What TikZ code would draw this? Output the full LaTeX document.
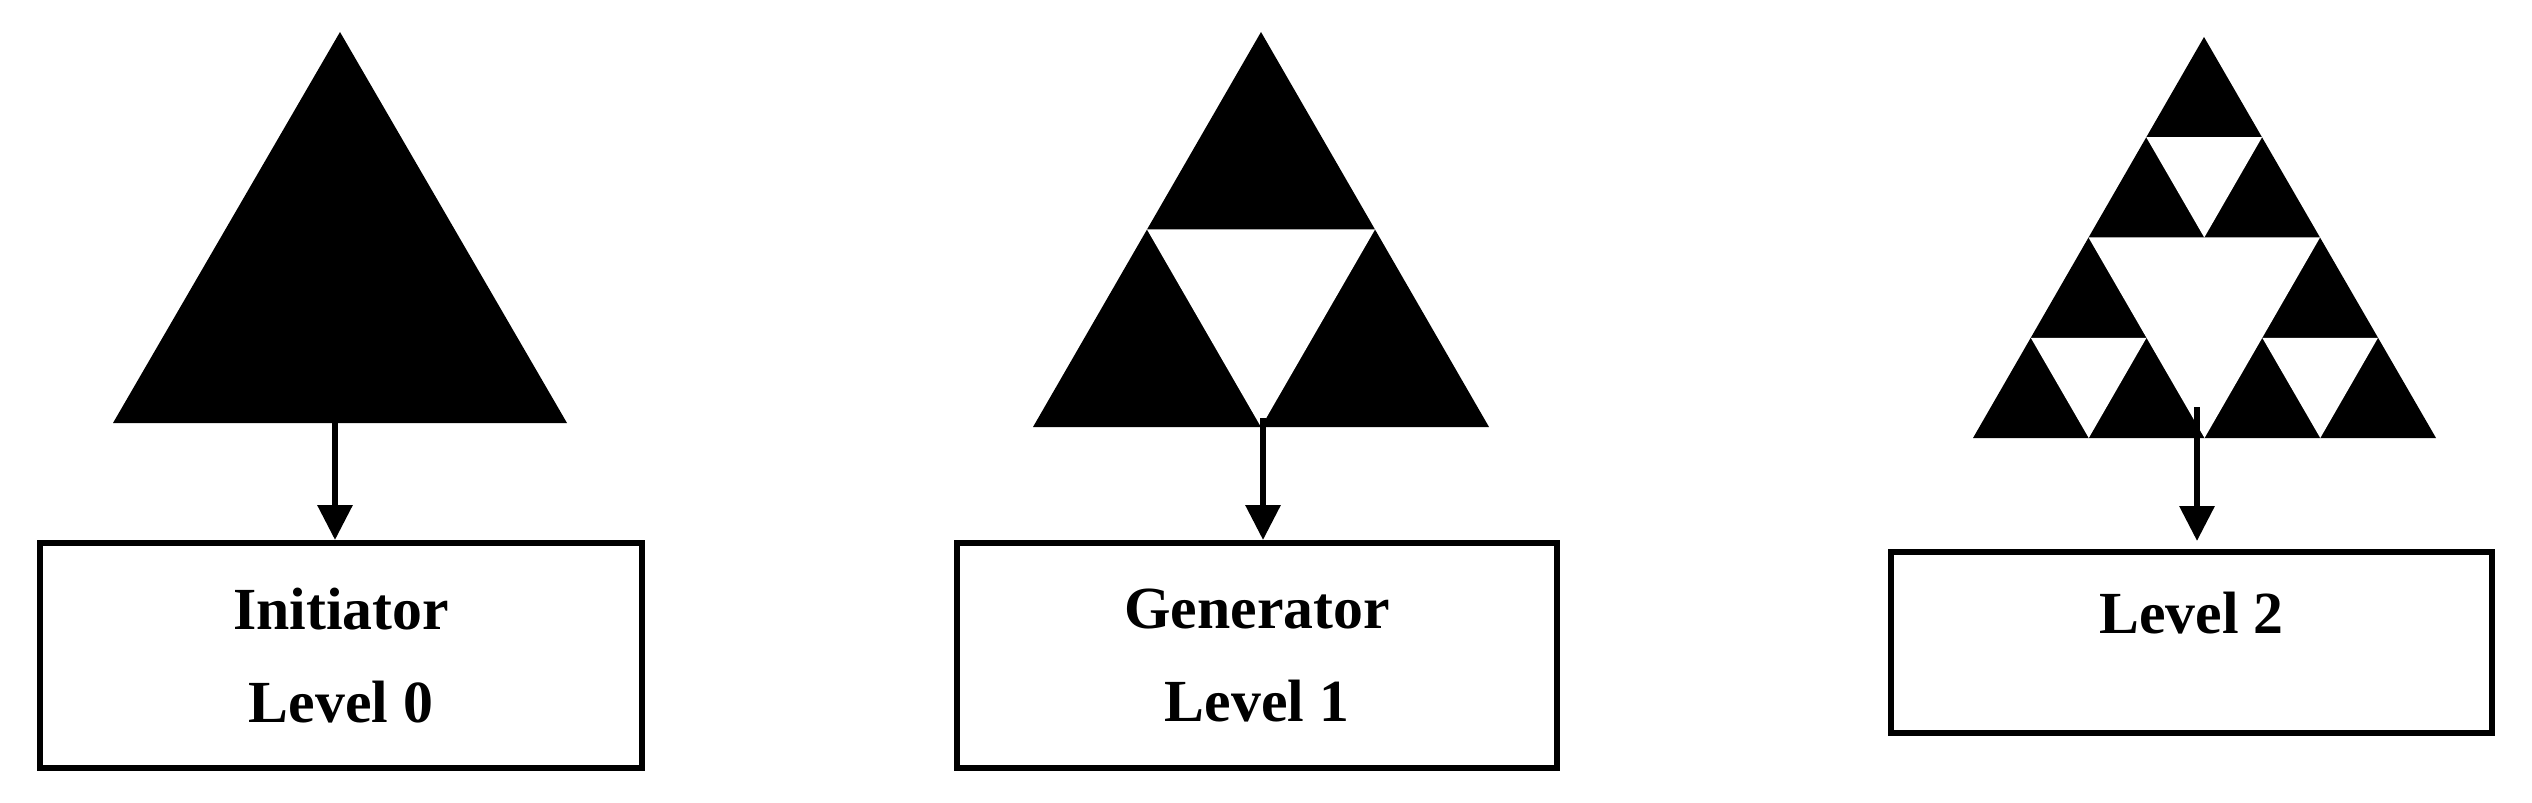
\documentclass[tikz,border=0pt]{standalone}
\usepackage{fontspec}
\setmainfont{Liberation Serif}
\usetikzlibrary{calc,arrows.meta}

\tikzset{
  levelbox/.style={draw,line width=1.7pt,minimum width=6.02cm,minimum height=2.25cm,inner sep=0pt,align=center,font=\fontsize{17}{26.7}\selectfont\bfseries},
  leveltext/.style={inner sep=0pt,font=\fontsize{17}{26.7}\selectfont\bfseries},
  down/.style={line width=1.8pt,-{Triangle[width=0.34cm,length=0.35cm]}},
  hole/.style={fill=white},
}

\begin{document}
\begin{tikzpicture}
\useasboundingbox (0,0) rectangle (25.32,8.02);
% initiator
\coordinate (a0) at (1.13,3.79);
\coordinate (b0) at (5.67,3.79);
\coordinate (c0) at (3.40,7.70);
\fill (a0) -- (b0) -- (c0) -- cycle;
% generator
\coordinate (a1) at (10.33,3.75);
\coordinate (b1) at (14.89,3.75);
\coordinate (c1) at (12.61,7.70);
\fill (a1) -- (b1) -- (c1) -- cycle;
\fill[hole] ($(a1)!0.5!(b1)$) -- ($(b1)!0.5!(c1)$) -- ($(a1)!0.5!(c1)$) -- cycle;
% level 2
\coordinate (a2) at (19.73,3.64);
\coordinate (b2) at (24.36,3.64);
\coordinate (c2) at (22.04,7.65);
\fill (a2) -- (b2) -- (c2) -- cycle;
\fill[hole] ($(a2)!0.5!(b2)$) -- ($(b2)!0.5!(c2)$) -- ($(a2)!0.5!(c2)$) -- cycle;
\foreach \p/\q/\r in {a2/b2/c2, b2/c2/a2, c2/a2/b2}
  \fill[hole] ($(\p)!0.25!(\q)$) -- ($(\p)!0.25!(\r)$) -- ($0.5*(\p)+0.25*(\q)+0.25*(\r)$) -- cycle;

\node[levelbox] (box0) at (3.41,1.465) {Initiator\\Level 0};
\node[levelbox,minimum width=6.00cm] (box1) at (12.57,1.465) {Generator\\Level 1};
\node[levelbox,minimum width=6.01cm,minimum height=1.81cm] (box2) at (21.915,1.595) {};
\node[leveltext,anchor=base] (lab2) at (21.915,1.69) {Level 2};

\coordinate (s0) at (3.35,3.79);
\coordinate (s1) at (12.63,3.84);
\coordinate (s2) at (21.97,3.95);
\draw[down] (s0) -- (s0 |- box0.north);
\draw[down] (s1) -- (s1 |- box1.north);
\draw[down,shorten >=0.08cm] (s2) -- (s2 |- box2.north);
\end{tikzpicture}
\end{document}
